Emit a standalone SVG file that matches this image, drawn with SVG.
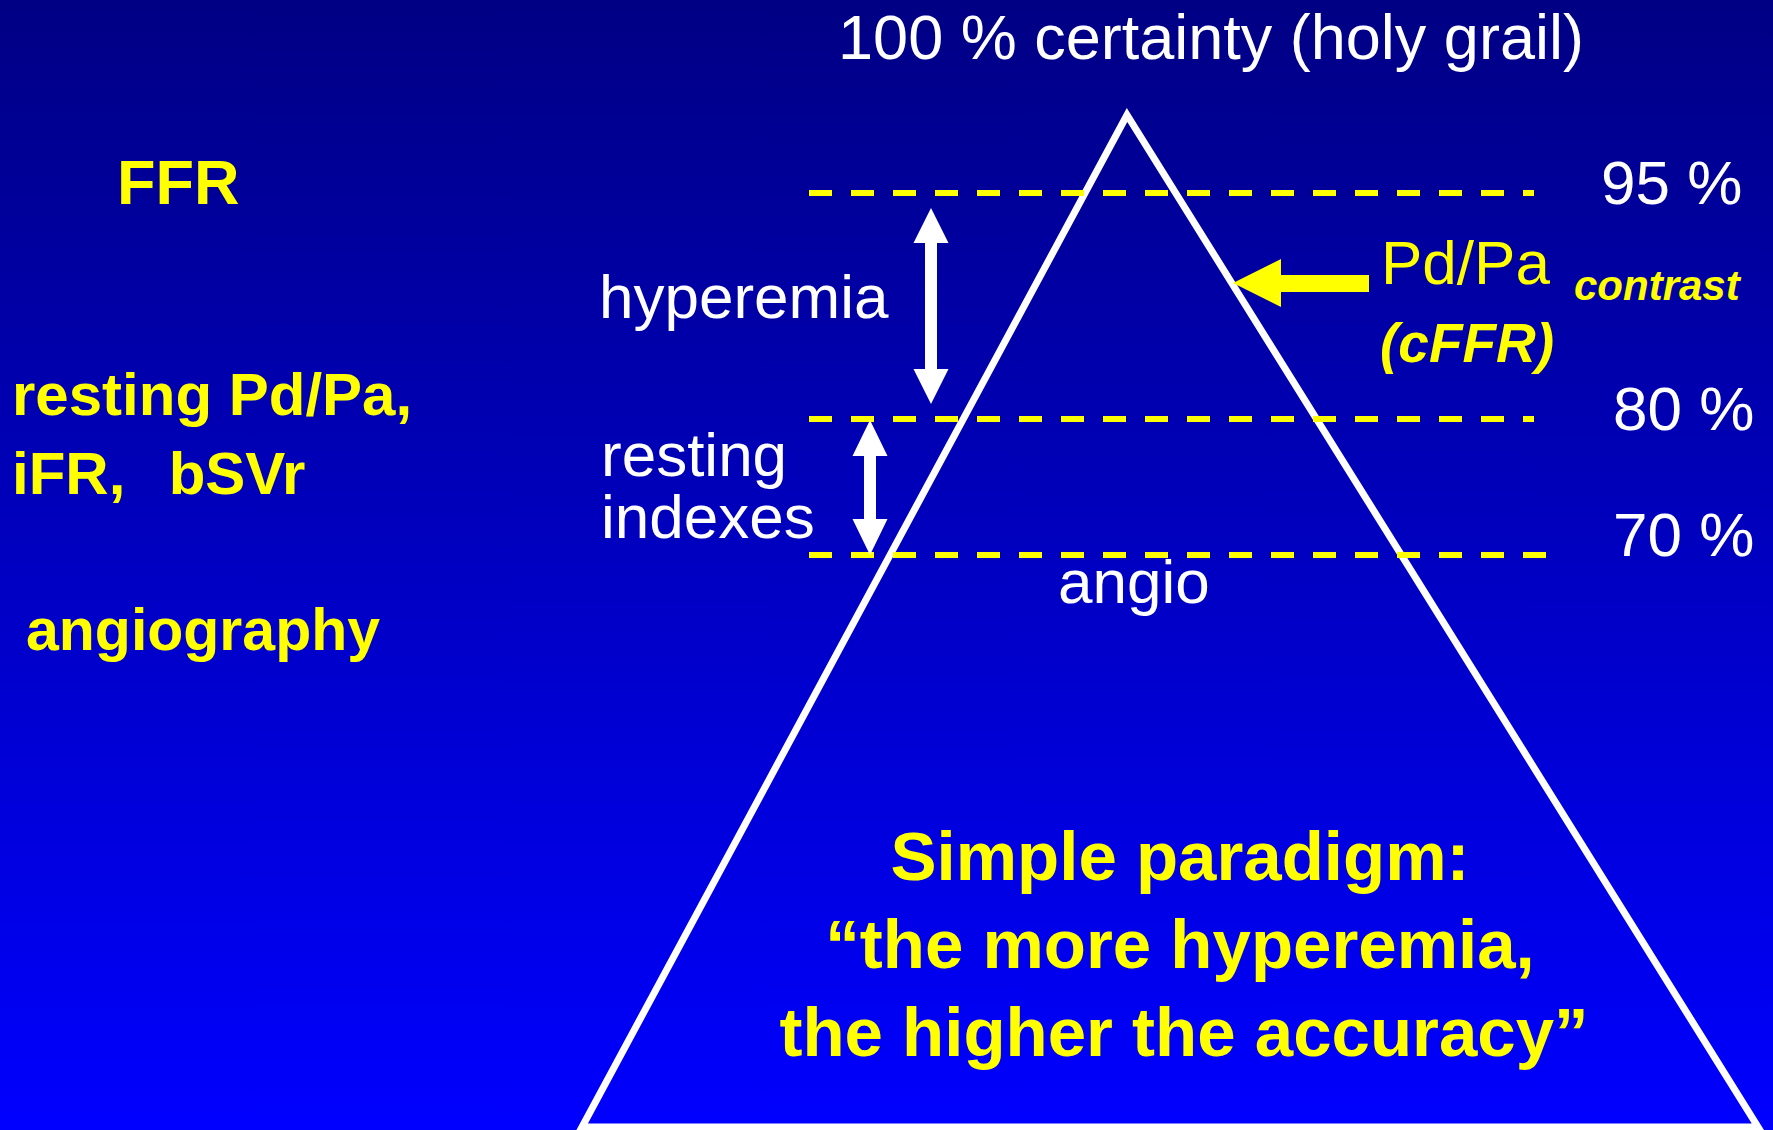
<svg xmlns="http://www.w3.org/2000/svg" width="1773" height="1130" viewBox="0 0 1773 1130">
<defs>
<linearGradient id="bg" x1="0" y1="0" x2="0" y2="1">
<stop offset="0" stop-color="#000084"/>
<stop offset="1" stop-color="#0000FF"/>
</linearGradient>
<style>
text{font-family:"Liberation Sans",Arial,sans-serif;white-space:pre}
.w{fill:#FFFFFF;font-size:62px}
.y{fill:#FFFF00;font-size:62px}
.yb{fill:#FFFF00;font-size:60px;font-weight:bold}
.bi{fill:#FFFF00;font-weight:bold;font-style:italic}
.big{fill:#FFFF00;font-size:69px;font-weight:bold;text-anchor:middle}
.dash{stroke:#FFFF00;stroke-width:6;stroke-dasharray:23 19;fill:none}
.arr{fill:#FFFFFF}
</style>
</defs>
<rect width="1773" height="1130" fill="url(#bg)"/>
<g id="pyramid">
<polygon points="1127,115 582,1127 1758,1127" fill="none" stroke="#FFFFFF" stroke-width="7" stroke-linejoin="miter"/>
</g>
<g id="connectors">
<line class="dash" x1="809" y1="193" x2="1534" y2="193"/>
<line class="dash" x1="809" y1="419" x2="1534" y2="419"/>
<line class="dash" x1="809" y1="555" x2="1548" y2="555"/>
<polygon class="arr" points="931,208 948.5,243 937,243 937,369 948.5,369 931,404 913.5,369 925,369 925,243 913.5,243"/>
<polygon class="arr" points="870,420 887.5,456 876,456 876,519 887.5,519 870,555 852.5,519 864,519 864,456 852.5,456"/>
<polygon fill="#FFFF00" points="1233,283 1281,259 1281,275 1369,275 1369,292 1281,292 1281,307"/>
</g>
<g id="title"><text class="w" x="1211" y="59" style="font-size:63px" text-anchor="middle">100 % certainty (holy grail)</text></g>
<g id="p95"><text class="w" x="1601" y="204">95 %</text></g>
<g id="p80"><text class="w" x="1613" y="430">80 %</text></g>
<g id="p70"><text class="w" x="1613" y="556">70 %</text></g>
<g id="cffr">
<text class="y" x="1381" y="284">Pd/Pa</text>
<text class="bi" x="1574" y="300" style="font-size:42px">contrast</text>
<text class="bi" x="1380" y="362" style="font-size:55px">(cFFR)</text>
</g>
<g id="hyperemia"><text class="w" x="599" y="318">hyperemia</text></g>
<g id="resting"><text class="w" x="601" y="476">resting</text><text class="w" x="601" y="538">indexes</text></g>
<g id="angio"><text class="w" x="1058" y="603">angio</text></g>
<g id="ffr"><text class="yb" x="117" y="204" style="font-size:63px">FFR</text></g>
<g id="restingidx"><text class="yb" x="12" y="415">resting Pd/Pa,</text><text class="yb" x="12" y="494" style="word-spacing:5px">iFR,  bSVr</text></g>
<g id="angiography"><text class="yb" x="26" y="650" style="font-size:59px">angiography</text></g>
<g id="paradigm">
<text class="big" x="1180" y="880">Simple paradigm:</text>
<text class="big" x="1180" y="968">“the more hyperemia,</text>
<text class="big" x="1184" y="1056">the higher the accuracy”</text>
</g>
</svg>
